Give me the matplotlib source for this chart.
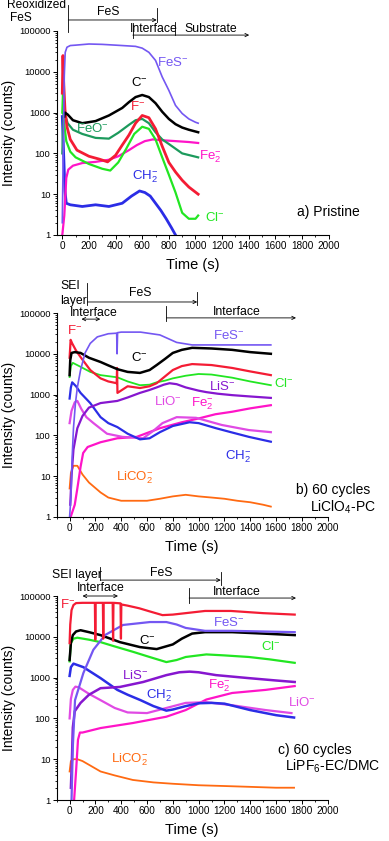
import matplotlib
matplotlib.use('Agg')
import matplotlib.pyplot as plt
from matplotlib import ticker

plt.rcParams['font.family'] = ['Liberation Sans', 'DejaVu Sans']

# colours of the ion traces
COL = {
    'FeS': '#7457f2', 'C': 'black', 'F': '#f41c34', 'FeO': '#1c9a5c',
    'Cl': '#22e622', 'Fe2': '#ff14c8', 'CH2': '#2b2de6', 'LiS': '#8616cf',
    'LiO': '#e04ae4', 'LiCO2': '#ff6a12',
}

# ---------------------------------- a) Pristine ----------------------------------
a_t_fes = [0, 8, 15, 22, 35, 60, 100, 200, 300, 400, 500, 550, 600, 650, 700, 750, 800, 850, 900, 950, 1000, 1020]
a_fes = [2, 200, 8000, 30000, 40000, 44000, 45000, 48000, 47000, 45000, 43000, 42000, 38000, 30000, 19000, 7500, 3500, 1500, 950, 700, 580, 550]
a_t_c = [15, 20, 40, 80, 150, 250, 350, 450, 500, 550, 600, 650, 700, 750, 800, 850, 900, 950, 1020]
a_c = [800, 1000, 900, 650, 550, 620, 850, 1300, 1800, 2400, 2700, 2400, 1700, 1050, 700, 520, 430, 380, 330]
a_t_f = [0, 5, 10, 20, 35, 60, 110, 200, 280, 340, 400, 450, 500, 550, 600, 650, 700, 750, 800, 850, 900, 950, 1020]
a_f = [3000, 25000, 6000, 1200, 450, 220, 120, 85, 72, 62, 90, 160, 280, 550, 850, 750, 400, 150, 60, 35, 22, 15, 10]
a_t_feo = [0, 10, 20, 40, 80, 150, 250, 350, 420, 500, 550, 600, 650, 700, 750, 800, 900, 1020]
a_feo = [100, 1000, 900, 550, 380, 300, 240, 230, 320, 500, 650, 700, 550, 330, 220, 170, 100, 80]
a_t_cl = [0, 5, 15, 30, 60, 100, 200, 300, 360, 420, 480, 540, 600, 650, 700, 750, 800, 850, 900, 950, 1000, 1020]
a_cl = [1000, 3000, 500, 200, 110, 80, 55, 42, 38, 60, 130, 300, 450, 400, 220, 80, 30, 11, 3.5, 2.5, 2.5, 3]
a_t_fe2 = [0, 15, 30, 45, 80, 150, 250, 350, 420, 500, 560, 620, 680, 750, 850, 950, 1020]
a_fe2 = [1, 3, 25, 40, 50, 58, 62, 70, 85, 120, 160, 200, 220, 210, 200, 190, 180]
a_t_ch2 = [0, 10, 20, 30, 60, 150, 250, 350, 450, 520, 580, 620, 660, 700, 740, 780, 820, 850]
a_ch2 = [800, 100, 12, 6, 5.5, 5, 5.5, 5, 6, 9, 12, 11, 9, 6, 4, 2.5, 1.5, 1]

# ------------------------------ b) 60 cycles LiClO4-PC ------------------------------
b_t_fes = [0, 10, 20, 30, 45, 60, 85, 120, 160, 215, 300, 365, 368, 372, 400, 550, 700, 830, 950, 1100, 1300, 1560]
b_fes = [1, 3, 30, 150, 600, 1500, 4000, 10500, 18000, 26000, 31000, 32000, 10000, 33000, 34000, 34000, 29000, 19000, 16500, 16500, 16500, 16500]
b_t_c = [0, 5, 15, 40, 85, 150, 240, 300, 370, 450, 545, 620, 675, 740, 800, 870, 950, 1100, 1260, 1400, 1560]
b_c = [3000, 7000, 10500, 11000, 10500, 8000, 6300, 5200, 4200, 3600, 3400, 4000, 5300, 7500, 10500, 12500, 14000, 13500, 12500, 11000, 10000]
b_t_f = [0, 8, 20, 50, 85, 160, 240, 300, 365, 368, 371, 450, 545, 620, 675, 740, 800, 870, 950, 1100, 1260, 1400, 1560]
b_f = [8000, 22000, 18000, 12000, 8300, 4000, 2500, 2100, 1900, 4500, 1100, 1600, 1450, 1600, 1900, 2800, 4000, 5000, 5600, 5300, 4500, 3700, 3000]
b_t_cl = [0, 10, 25, 85, 160, 240, 370, 450, 545, 620, 675, 740, 800, 900, 1000, 1100, 1260, 1400, 1560]
b_cl = [2700, 5000, 6000, 4800, 3600, 3000, 2650, 2100, 1700, 1750, 2000, 2200, 2500, 2900, 3200, 3100, 2600, 2100, 1700]
b_t_lis = [5, 15, 30, 60, 100, 150, 240, 370, 450, 545, 620, 675, 730, 775, 830, 900, 1000, 1060, 1150, 1260, 1400, 1560]
b_lis = [2, 10, 45, 150, 300, 480, 620, 700, 850, 1100, 1300, 1500, 1750, 1900, 1800, 1500, 1250, 1150, 1050, 970, 900, 830]
b_t_ch2 = [0, 10, 20, 50, 85, 160, 240, 300, 370, 450, 545, 620, 700, 800, 930, 1000, 1135, 1250, 1390, 1560]
b_ch2 = [800, 1500, 2000, 1600, 1100, 620, 280, 200, 160, 110, 80, 85, 120, 170, 210, 200, 150, 120, 92, 70]
b_t_lio = [0, 15, 40, 60, 90, 130, 185, 290, 410, 500, 570, 650, 720, 830, 980, 1180, 1390, 1560]
b_lio = [200, 400, 650, 700, 450, 280, 200, 110, 92, 88, 85, 130, 200, 280, 270, 180, 135, 120]
b_t_fe2 = [8, 40, 60, 85, 105, 140, 240, 370, 520, 700, 870, 1000, 1130, 1260, 1400, 1560]
b_fe2 = [1, 2, 5, 17, 37, 52, 68, 85, 92, 150, 210, 260, 330, 380, 460, 550]
b_t_lico2 = [0, 10, 30, 60, 100, 150, 240, 300, 400, 500, 600, 700, 800, 900, 1000, 1100, 1200, 1300, 1400, 1500, 1560]
b_lico2 = [5, 12, 18, 18, 11, 7, 4, 3, 2.5, 2.5, 2.5, 2.8, 3.2, 3.5, 3.2, 3, 2.8, 2.5, 2.3, 2, 1.8]

# ---------------------------- c) 60 cycles LiPF6-EC/DMC ----------------------------
c_t_f = [0, 5, 15, 30, 50, 100, 150, 196, 199, 202, 258, 261, 264, 334, 337, 340, 395, 398, 401, 450, 540, 620, 720, 800, 900, 1050, 1250, 1500, 1745]
c_f = [7000, 20000, 45000, 60000, 67000, 68000, 68000, 68000, 8500, 68000, 68000, 9000, 68000, 68000, 8000, 68000, 66000, 9000, 62000, 58000, 50000, 42000, 34000, 35000, 38000, 43000, 43000, 38000, 35000]
c_t_c = [0, 10, 25, 50, 85, 150, 240, 390, 545, 675, 800, 870, 950, 1050, 1260, 1500, 1745]
c_c = [2700, 7000, 11000, 13500, 14500, 13000, 11000, 7400, 5600, 5000, 6500, 9000, 12000, 13000, 13000, 12000, 11000]
c_t_fes = [15, 25, 42, 107, 184, 274, 414, 623, 750, 830, 900, 1050, 1260, 1500, 1745]
c_fes = [1, 20, 280, 1300, 4800, 11000, 19500, 23000, 23000, 20000, 16500, 14000, 14000, 13500, 13000]
c_t_cl = [0, 10, 30, 60, 150, 240, 350, 490, 620, 750, 830, 900, 1060, 1200, 1390, 1550, 1745]
c_cl = [2500, 7000, 9000, 9500, 8500, 7400, 5800, 4300, 3200, 2400, 2700, 3200, 3700, 3500, 3200, 2800, 2300]
c_t_lis = [10, 18, 25, 40, 85, 150, 240, 390, 570, 750, 850, 930, 1000, 1135, 1390, 1600, 1745]
c_lis = [2, 10, 60, 150, 240, 380, 550, 590, 780, 1150, 1350, 1400, 1350, 1150, 970, 850, 780]
c_t_ch2 = [0, 10, 30, 107, 240, 370, 450, 550, 650, 750, 800, 900, 1000, 1100, 1200, 1400, 1600, 1740]
c_ch2 = [1100, 1800, 2200, 1800, 970, 500, 380, 280, 200, 155, 165, 200, 235, 240, 230, 160, 120, 105]
c_t_lio = [0, 10, 25, 45, 70, 150, 240, 350, 450, 600, 750, 900, 1060, 1260, 1520, 1720]
c_lio = [100, 300, 500, 600, 580, 400, 280, 180, 140, 135, 180, 240, 250, 210, 160, 135]
c_t_fe2 = [35, 50, 65, 80, 100, 240, 490, 750, 900, 1060, 1260, 1520, 1745]
c_fe2 = [1, 5, 30, 45, 45, 58, 77, 110, 160, 290, 420, 500, 620]
c_t_lico2 = [0, 10, 30, 60, 100, 160, 240, 350, 490, 650, 800, 1000, 1200, 1400, 1600, 1740]
c_lico2 = [5, 9, 10, 10, 9, 7, 5, 4, 3.1, 2.7, 2.5, 2.3, 2.2, 2.1, 2, 2]

Y_TICKS = [1, 10, 100, 1000, 10000, 100000]
Y_LABELS = ['1', '10', '100', '1000', '10000', '100000']

W, H = 389, 841
fig = plt.figure(figsize=(W / 100, H / 100), dpi=100)


def make_axes(left, right, top, bottom, xmin):
    ax = fig.add_axes([left / W, 1 - bottom / H, (right - left) / W, (bottom - top) / H])
    ax.set_yscale('log')
    ax.set_ylim(1, 100000)
    ax.set_xlim(xmin, 2000)
    ax.spines['top'].set_visible(False)
    ax.spines['right'].set_visible(False)
    for s in ('left', 'bottom'):
        ax.spines[s].set_linewidth(0.8)
    ax.yaxis.set_major_locator(ticker.FixedLocator(Y_TICKS))
    ax.yaxis.set_major_formatter(ticker.FixedFormatter(Y_LABELS))
    ax.yaxis.set_minor_locator(ticker.LogLocator(base=10, subs=range(2, 10), numticks=20))
    ax.yaxis.set_minor_formatter(ticker.NullFormatter())
    ax.xaxis.set_major_locator(ticker.MultipleLocator(200))
    ax.xaxis.set_minor_locator(ticker.MultipleLocator(100))
    ax.tick_params(which='major', direction='out', length=3, width=0.7, pad=1.5)
    ax.tick_params(which='minor', direction='out', length=1.6, width=0.6)
    ax.tick_params(axis='x', labelsize=7.2)
    ax.tick_params(axis='y', labelsize=6.8)
    ax.set_xlabel('Time (s)', fontsize=10.5, labelpad=5)
    ax.set_ylabel('Intensity (counts)', fontsize=10, labelpad=2)
    return ax


def trace(ax, t, v, key, lw=1.6):
    ax.plot(t, v, color=COL[key], lw=lw, solid_joinstyle='round')


def label(ax, x, y, txt, key, size=9.5):
    ax.text(x, y, txt, color=COL[key], fontsize=size, ha='center', va='center')


def vbar(ax, x, y1, y2):
    ax.plot([x, x], [y1, y2], color='black', lw=0.6, clip_on=False)


def arrow(ax, x1, x2, y, style='->'):
    ax.annotate('', xy=(x2, y), xytext=(x1, y), annotation_clip=False,
                arrowprops=dict(arrowstyle=style, lw=0.6, color='black',
                                shrinkA=0, shrinkB=0, mutation_scale=6))


def head(ax, x, y, txt, size=8.8, ha='center'):
    ax.text(x, y, txt, fontsize=size, ha=ha, va='center', clip_on=False)


# ---------------- panel a ----------------
ax = make_axes(56.7, 328.7, 31, 235, -42)
trace(ax, a_t_ch2, a_ch2, 'CH2', 2.0)
trace(ax, a_t_fe2, a_fe2, 'Fe2')
trace(ax, a_t_feo, a_feo, 'FeO')
trace(ax, a_t_cl, a_cl, 'Cl')
trace(ax, a_t_f, a_f, 'F', 2.0)
trace(ax, a_t_c, a_c, 'C', 1.8)
trace(ax, a_t_fes, a_fes, 'FeS', 1.2)

label(ax, 830, 10**4.22, r'$\mathregular{FeS^{-}}$', 'FeS')
label(ax, 582, 10**3.75, r'$\mathregular{C^{-}}$', 'C')
label(ax, 567, 10**3.16, r'$\mathregular{F^{-}}$', 'F')
label(ax, 224, 10**2.62, r'$\mathregular{FeO^{-}}$', 'FeO')
label(ax, 1110, 10**1.91, r'$\mathregular{Fe_2^{-}}$', 'Fe2')
label(ax, 619, 10**1.42, r'$\mathregular{CH_2^{-}}$', 'CH2')
label(ax, 1145, 10**0.42, r'$\mathregular{Cl^{-}}$', 'Cl')
ax.text(1765, 10**0.56, 'a) Pristine', fontsize=10, ha='left', va='center')

head(ax, -190, 10**5.64, 'Reoxidized', size=8.6)
head(ax, -313, 10**5.33, 'FeS', size=8.6)
vbar(ax, 45, 10**5.64, 10**4.98)
head(ax, 343, 10**5.47, 'FeS')
arrow(ax, 45, 709, 10**5.27)
vbar(ax, 709, 10**5.56, 10**5.22)
vbar(ax, 530, 10**5.20, 10**4.83)
head(ax, 687, 10**5.05, 'Interface')
vbar(ax, 843, 10**5.22, 10**4.90)
arrow(ax, 530, 1403, 10**4.90)
head(ax, 1112, 10**5.05, 'Substrate')

# ---------------- panel b ----------------
ax = make_axes(56.7, 327.6, 313, 517, -100)
trace(ax, b_t_lico2, b_lico2, 'LiCO2', 1.3)
trace(ax, b_t_fe2, b_fe2, 'Fe2')
trace(ax, b_t_lio, b_lio, 'LiO')
trace(ax, b_t_ch2, b_ch2, 'CH2')
trace(ax, b_t_lis, b_lis, 'LiS')
trace(ax, b_t_cl, b_cl, 'Cl', 1.3)
trace(ax, b_t_f, b_f, 'F')
trace(ax, b_t_c, b_c, 'C', 1.8)
trace(ax, b_t_fes, b_fes, 'FeS', 1.2)

label(ax, 38, 10**4.58, r'$\mathregular{F^{-}}$', 'F')
label(ax, 1234, 10**4.46, r'$\mathregular{FeS^{-}}$', 'FeS')
label(ax, 544, 10**3.92, r'$\mathregular{C^{-}}$', 'C')
label(ax, 1660, 10**3.28, r'$\mathregular{Cl^{-}}$', 'Cl')
label(ax, 1180, 10**3.19, r'$\mathregular{LiS^{-}}$', 'LiS')
label(ax, 759, 10**2.82, r'$\mathregular{LiO^{-}}$', 'LiO')
label(ax, 1030, 10**2.77, r'$\mathregular{Fe_2^{-}}$', 'Fe2')
label(ax, 1310, 10**1.47, r'$\mathregular{CH_2^{-}}$', 'CH2')
label(ax, 506, 10**0.96, r'$\mathregular{LiCO_2^{-}}$', 'LiCO2')
ax.text(1755, 10**0.66, 'b) 60 cycles', fontsize=10, ha='left', va='center')
ax.text(1865, 10**0.24, r'$\mathregular{LiClO_4}$-PC', fontsize=10, ha='left', va='center')

head(ax, -75, 10**5.65, 'SEI', ha='left')
head(ax, -75, 10**5.29, 'layer', ha='left')
vbar(ax, 138, 10**5.74, 10**5.20)
head(ax, 544, 10**5.49, 'FeS')
arrow(ax, 138, 989, 10**5.27)
vbar(ax, 989, 10**5.51, 10**5.20)
head(ax, 184, 10**5.0, 'Interface')
arrow(ax, 92, 238, 10**4.85, '<->')
vbar(ax, 751, 10**5.17, 10**4.80)
head(ax, 1295, 10**5.02, 'Interface')
arrow(ax, 751, 1755, 10**4.88)

# ---------------- panel c ----------------
ax = make_axes(56.7, 327.6, 596, 800, -100)
trace(ax, c_t_lico2, c_lico2, 'LiCO2', 1.3)
trace(ax, c_t_fe2, c_fe2, 'Fe2')
trace(ax, c_t_lio, c_lio, 'LiO')
trace(ax, c_t_ch2, c_ch2, 'CH2', 1.8)
trace(ax, c_t_lis, c_lis, 'LiS', 1.8)
trace(ax, c_t_cl, c_cl, 'Cl')
trace(ax, c_t_c, c_c, 'C', 1.8)
trace(ax, c_t_fes, c_fes, 'FeS', 1.6)
trace(ax, c_t_f, c_f, 'F', 1.6)

label(ax, -15, 10**4.78, r'$\mathregular{F^{-}}$', 'F')
label(ax, 605, 10**3.92, r'$\mathregular{C^{-}}$', 'C')
label(ax, 1234, 10**4.36, r'$\mathregular{FeS^{-}}$', 'FeS')
label(ax, 1560, 10**3.75, r'$\mathregular{Cl^{-}}$', 'Cl')
label(ax, 506, 10**3.06, r'$\mathregular{LiS^{-}}$', 'LiS')
label(ax, 1160, 10**2.80, r'$\mathregular{Fe_2^{-}}$', 'Fe2')
label(ax, 697, 10**2.55, r'$\mathregular{CH_2^{-}}$', 'CH2')
label(ax, 1800, 10**2.38, r'$\mathregular{LiO^{-}}$', 'LiO')
label(ax, 467, 10**0.98, r'$\mathregular{LiCO_2^{-}}$', 'LiCO2')
ax.text(1617, 10**1.23, 'c) 60 cycles', fontsize=10, ha='left', va='center')
ax.text(1670, 10**0.83, r'$\mathregular{LiPF_6}$-EC/DMC', fontsize=10, ha='left', va='center')

head(ax, 54, 10**5.51, 'SEI layer')
vbar(ax, 238, 10**5.71, 10**5.39)
head(ax, 713, 10**5.56, 'FeS')
arrow(ax, 238, 1172, 10**5.39)
vbar(ax, 1172, 10**5.59, 10**5.27)
head(ax, 238, 10**5.20, 'Interface')
arrow(ax, 100, 375, 10**5.0, '<->')
vbar(ax, 927, 10**5.20, 10**4.83)
head(ax, 1295, 10**5.10, 'Interface')
arrow(ax, 927, 1755, 10**4.95)

fig.savefig('out.png', dpi=100)
